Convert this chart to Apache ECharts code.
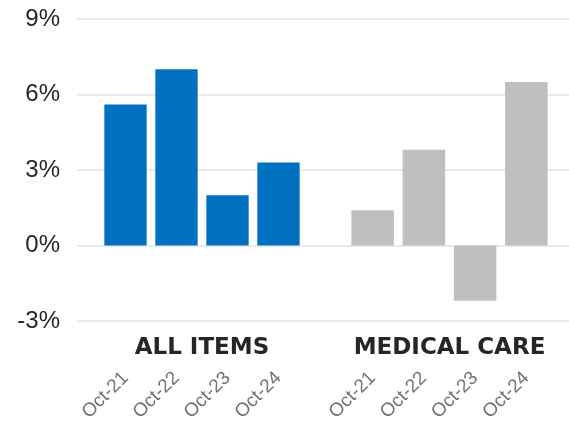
<!DOCTYPE html>
<html>
<head>
<meta charset="utf-8">
<script src="https://cdn.jsdelivr.net/npm/echarts@6/dist/echarts.min.js"></script>
<style>
  html, body { margin: 0; padding: 0; background: #fff; }
  #chart { width: 569px; height: 424px; }
</style>
</head>
<body>
<div id="chart"></div>
<script>
// data
var months = ['Oct-21', 'Oct-22', 'Oct-23', 'Oct-24'];
var groupNames = ['ALL ITEMS', 'MEDICAL CARE'];
var allItems = [5.6, 7.0, 2.0, 3.3];
var medicalCare = [1.4, 3.8, -2.2, 6.5];
var yMin = -3, yMax = 9, yStep = 3;

var chart = echarts.init(document.getElementById('chart'));

// x轴设置（两组共用）
function groupAxis(idx, name) {
    return {
        type: 'category',
        gridIndex: idx,
        data: months,
        name: name,
        nameLocation: 'middle',
        nameGap: 16,
        nameMoveOverlap: false,
        nameTextStyle: {
            fontFamily: 'DejaVu Sans',
            fontWeight: 'bold',
            fontSize: 23,
            color: '#262626'
        },
        axisLine: {show: false},
        axisTick: {show: false},
        axisLabel: {
            rotate: 45,
            margin: 54,
            interval: 0,
            hideOverlap: false,
            fontFamily: 'Liberation Sans',
            fontSize: 19,
            color: '#767171'
        }
    };
}

function hiddenY(idx) {
    return {type: 'value', gridIndex: idx, min: yMin, max: yMax, interval: yStep, show: false};
}

var option = {
    animation: false,
    grid: [
        {left: 77, right: 0, top: 19, bottom: 103, outerBoundsMode: 'none'},     // 网格线 + y轴
        {left: 100, right: 265, top: 19, bottom: 103, outerBoundsMode: 'none'},  // ALL ITEMS
        {left: 347, right: 17, top: 19, bottom: 103, outerBoundsMode: 'none'}    // MEDICAL CARE
    ],
    xAxis: [
        {type: 'category', gridIndex: 0, data: [''], show: false},
        groupAxis(1, groupNames[0]),
        groupAxis(2, groupNames[1])
    ],
    yAxis: [
        {
            type: 'value',
            gridIndex: 0,
            min: yMin,
            max: yMax,
            interval: yStep,
            axisLine: {show: false},
            axisTick: {show: false},
            axisLabel: {
                formatter: '{value}%',
                margin: 17,
                fontFamily: 'Liberation Sans',
                fontSize: 24,
                color: '#262626'
            },
            splitLine: {lineStyle: {color: '#e3e3e3', width: 1.5}}
        },
        hiddenY(1),
        hiddenY(2)
    ],
    series: [
        {
            type: 'bar',
            name: groupNames[0],
            xAxisIndex: 1,
            yAxisIndex: 1,
            data: allItems,
            barWidth: '83%',
            itemStyle: {color: '#0070C0'}
        },
        {
            type: 'bar',
            name: groupNames[1],
            xAxisIndex: 2,
            yAxisIndex: 2,
            data: medicalCare,
            barWidth: '83%',
            itemStyle: {color: '#BFBFBF'}
        }
    ]
};
chart.setOption(option);
</script>
</body>
</html>
